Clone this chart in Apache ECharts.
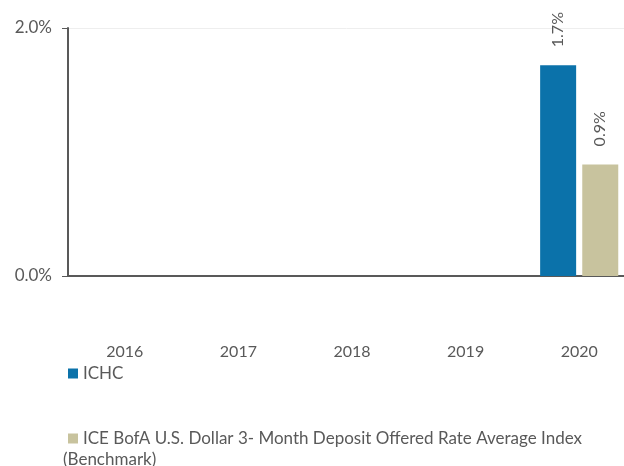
<!DOCTYPE html>
<html>
<head>
<meta charset="utf-8">
<script src="https://cdn.jsdelivr.net/npm/echarts@6/dist/echarts.min.js"></script>
<style>
  html, body { margin: 0; padding: 0; background: #fff; }
  #chart { width: 624px; height: 466px; }
</style>
</head>
<body>
<div id="chart"></div>
<script>
// 年份 + 两条系列（单位 %）
const years = ['2016', '2017', '2018', '2019', '2020']
const ichc = [null, null, null, null, 1.7]
const benchmark = [null, null, null, null, 0.9]
const ichcName = 'ICHC'
const benchName = 'ICE BofA U.S. Dollar 3- Month Deposit Offered Rate Average Index (Benchmark)'

const textColor = '#595959'
const fontFamily = 'Lato, "Open Sans", sans-serif'

const chart = echarts.init(document.getElementById('chart'))

const barLabel = {
  show: true,
  position: 'top',
  rotate: 90,
  align: 'left',
  verticalAlign: 'middle',
  distance: 18,
  color: textColor,
  fontSize: 16,
  fontFamily,
  formatter: p => p.value.toFixed(1) + '%',
}

const option = {
  animation: false,
  textStyle: { fontFamily },
  grid: { left: 68, top: 28, width: 568, height: 248, outerBoundsMode: 'none' },
  legend: {
    orient: 'vertical',
    left: 63,
    top: 360,
    itemWidth: 10,
    itemHeight: 10,
    itemGap: 48,
    icon: 'rect',
    textStyle: { color: textColor, fontSize: 17, fontFamily },
    formatter: name => name === benchName ? 'ICE BofA U.S. Dollar 3- Month Deposit Offered Rate Average Index' : name,
    data: [ichcName, benchName],
  },
  graphic: [{
    type: 'text',
    left: 63,
    top: 451,
    style: { text: '(Benchmark)', fill: textColor, fontSize: 17, fontFamily },
  }],
  xAxis: {
    type: 'category',
    data: years,
    axisLine: { lineStyle: { color: '#595959', width: 2 } },
    axisTick: { show: false },
    axisLabel: { color: textColor, fontSize: 16, margin: 68 },
  },
  yAxis: {
    type: 'value',
    min: 0,
    max: 2,
    interval: 2,
    axisLine: { show: true, lineStyle: { color: '#595959', width: 2 } },
    axisTick: { show: true, length: 6, lineStyle: { color: '#595959' } },
    axisLabel: { color: textColor, fontSize: 17, margin: 16, formatter: v => v.toFixed(1) + '%' },
    splitLine: { show: true, lineStyle: { color: '#eeeeee' } },
  },
  series: [
    {
      name: ichcName,
      type: 'bar',
      data: ichc,
      barWidth: 36,
      barGap: '17%',
      itemStyle: { color: '#0b72aa' },
      label: barLabel,
    },
    {
      name: benchName,
      type: 'bar',
      data: benchmark,
      barWidth: 36,
      itemStyle: { color: '#c8c39e' },
      label: barLabel,
    },
  ],
}

chart.setOption(option)
</script>
</body>
</html>
